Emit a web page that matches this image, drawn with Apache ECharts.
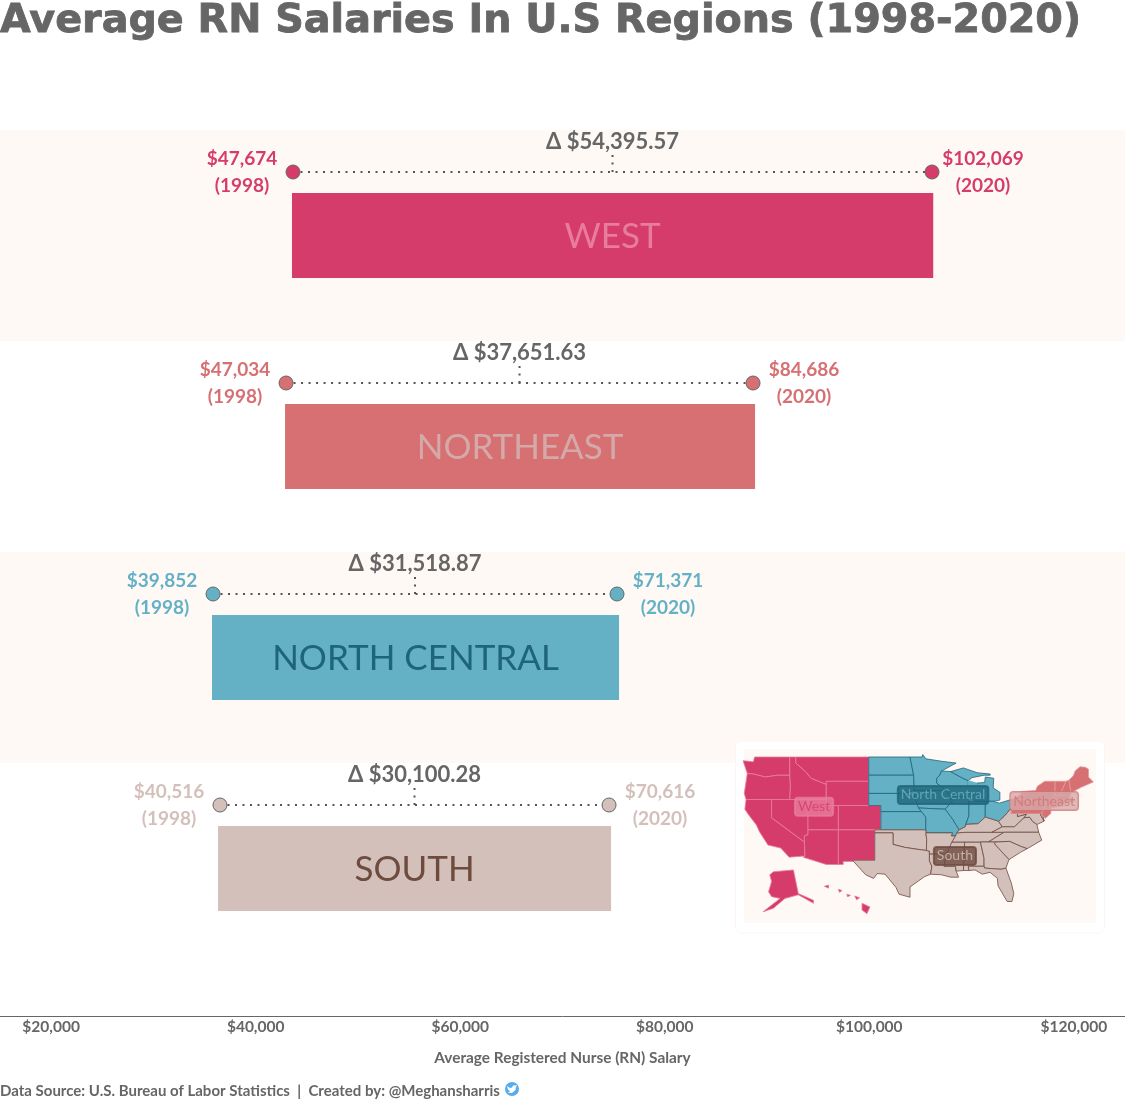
<!DOCTYPE html>
<html><head><meta charset="utf-8">
<style>html,body{margin:0;padding:0;background:#fff}#c{width:1125px;height:1100px}</style>
<script src="https://cdn.jsdelivr.net/npm/echarts@6/dist/echarts.min.js"></script></head>
<body><div id="c"></div>
<script>
// Chart data
const categories = ['WEST','NORTHEAST','NORTH CENTRAL','SOUTH'];
const barStart = [43550,42870,35730,36320];
const barEnd = [106250,88830,75530,74750];
const dotStart = [43650,42970,35830,36510];
const dotEnd = [106130,88630,75330,74550];
const labelStart = ['$47,674','$47,034','$39,852','$40,516'];
const labelEnd = ['$102,069','$84,686','$71,371','$70,616'];
const deltas = ['$54,395.57','$37,651.63','$31,518.87','$30,100.28'];
const colors = ['#d63c6b','#d67073','#64b1c6','#d4c0ba'];
const barText = ['#e87c9e','#d4a9a8','#1f6579','#6e4b3f'];
const ticks = [20000,40000,60000,80000,100000,120000];

// Map shapes: [lon, lat] outlines, Alaska and Hawaii moved as in the inset
const westStates = {
 WA:[[[-124.7,48.4],[-123,48.2],[-122.8,49],[-117,49],[-117,46],[-119,46],[-121,45.7],[-123,46.2],[-124,46.3]]],
 OR:[[[-124,46.3],[-123,46.2],[-121,45.7],[-119,46],[-117,46],[-116.9,44.2],[-117,42],[-124.2,42],[-124.5,43]]],
 CA:[[[-124.2,42],[-120,42],[-120,39],[-114.6,35],[-114.5,32.7],[-117.1,32.5],[-118.5,34],[-120.6,34.5],[-122,36.7],[-122.5,37.8],[-123.8,39.5],[-124.4,40.4]]],
 NV:[[[-120,42],[-114,42],[-114,36.2],[-114.6,36],[-114.6,35],[-120,39]]],
 ID:[[[-117,49],[-116,49],[-116,48],[-114.4,46.6],[-113.5,45.5],[-111,44.5],[-111,42],[-117,42],[-116.9,44.2],[-117,46]]],
 MT:[[[-116,49],[-104,49],[-104,45],[-111,45],[-111,44.5],[-113.5,45.5],[-114.4,46.6],[-116,48]]],
 WY:[[[-111,45],[-104,45],[-104,41],[-111,41]]],
 UT:[[[-114,42],[-111,42],[-111,41],[-109,41],[-109,37],[-114,37]]],
 CO:[[[-109,41],[-102,41],[-102,37],[-109,37]]],
 AZ:[[[-114.6,36],[-114,36.2],[-114,37],[-109,37],[-109,31.3],[-111,31.3],[-114.8,32.5],[-114.5,32.7],[-114.6,35]]],
 NM:[[[-109,37],[-103,37],[-103,32],[-106.6,32],[-106.5,31.8],[-108.2,31.8],[-108.2,31.3],[-109,31.3]]],
 AK:[[[-119.7,30.1],[-116.4,30.4],[-115.6,26.5],[-113.1,25.4],[-113.1,24.9],[-115.6,26.3],[-117.8,25.7],[-119.7,24.1],[-121.4,23.5],[-118.6,25.7],[-120,26],[-120.5,26.8],[-120,28.5],[-120.3,29.6]]],
 HI:[[[-105.1,24.9],[-103.8,24.3],[-104.3,23.2],[-105.1,23.8]]],
 HI2:[[[-106.3,26.1],[-105.5,25.8],[-106,25.5]]],
 HI3:[[[-107.6,26.4],[-107,26.2],[-107.5,26]]],
 HI4:[[[-109,27.2],[-108.4,27],[-108.8,26.7]]],
 AK2:[[[-111.3,27.7],[-110.6,27.9],[-110.6,27.4]]]
};
const centralStates = {
 ND:[[[-104,49],[-97.2,49],[-96.6,46],[-104,46]]],
 SD:[[[-104,46],[-96.6,46],[-96.5,43.5],[-98,43],[-98.5,43],[-104,43]]],
 NE:[[[-104,43],[-98.5,43],[-96.5,42.5],[-95.3,40],[-102,40],[-102,41],[-104,41]]],
 KS:[[[-102,40],[-95.3,40],[-94.6,39.1],[-94.6,37],[-102,37]]],
 MN:[[[-97.2,49],[-95.2,49],[-95.1,49.4],[-94.6,48.7],[-92,48.3],[-89.6,48],[-92,46.7],[-92.3,46],[-92.8,45.5],[-92.8,44.7],[-91.2,43.5],[-96.5,43.5],[-96.6,46]]],
 IA:[[[-96.5,43.5],[-91.2,43.5],[-90.2,41.8],[-91.4,40.4],[-95.8,40.6],[-96.5,42.5]]],
 MO:[[[-95.8,40.6],[-91.4,40.4],[-90.2,38.8],[-89.1,37],[-89.7,36],[-90.4,36],[-90.2,36.5],[-94.6,36.5],[-94.6,39.1],[-95.3,40]]],
 WI:[[[-92,46.7],[-90.5,46.6],[-88.5,45.5],[-87.6,45.1],[-87.8,42.5],[-90.6,42.5],[-91.2,43.5],[-92.8,44.7],[-92.8,45.5],[-92.3,46]]],
 IL:[[[-90.6,42.5],[-87.8,42.5],[-87.5,41.6],[-87.5,39.3],[-88,38],[-88.1,37.5],[-89.1,37],[-90.2,38.8],[-91.4,40.4],[-90.2,41.8]]],
 IN:[[[-87.5,41.7],[-84.8,41.7],[-84.8,39.1],[-86,38],[-88,37.9],[-87.5,39.3]]],
 MI:[[[-86.5,41.76],[-83.5,41.7],[-82.4,41.9],[-82.4,43.2],[-83.5,43.9],[-83.4,45.5],[-84.8,45.7],[-84.9,44.8],[-86.2,44.7],[-86.2,43],[-86.8,42]]],
 MI2:[[[-90.5,46.6],[-88.4,47.2],[-86.1,46.4],[-84,46.2],[-84,46],[-85,46],[-87,45.6],[-87.6,45.1],[-88.5,45.5]]],
 LM:[[[-87.8,42.5],[-86.8,42],[-86.2,43],[-86.2,44.7],[-87.6,45.1]]],
 OH:[[[-84.8,41.7],[-83.5,41.7],[-82.5,41.4],[-80.5,42],[-80.5,40.6],[-81.7,39.2],[-82.6,38.4],[-84.8,39.1]]]
};
const southStates = {
 OK:[[[-103,37],[-94.6,37],[-94.45,35.4],[-94.5,33.6],[-96,33.8],[-98,34.1],[-100,34.6],[-100,36.5],[-103,36.5]]],
 TX:[[[-103,36.5],[-100,36.5],[-100,34.6],[-98,34.1],[-96,33.8],[-94.5,33.6],[-94,33.5],[-94,31.9],[-93.6,31],[-93.8,29.7],[-94.8,29.3],[-97.2,27.6],[-97.2,25.9],[-99,26.4],[-99.5,27.5],[-101.3,29.7],[-102.6,29.8],[-103.2,29],[-104.5,29.6],[-106.5,31.8],[-106.6,32],[-103,32]]],
 AR:[[[-94.6,36.5],[-90.2,36.5],[-90.4,36],[-89.7,36],[-91.2,33],[-94,33],[-94,33.5],[-94.5,33.6],[-94.45,35.4]]],
 LA:[[[-94,33],[-91.2,33],[-91.6,31],[-89.7,31],[-89.6,30.2],[-89.2,29.2],[-90.5,29.2],[-92,29.6],[-93.8,29.7],[-93.6,31],[-94,31.9]]],
 MS:[[[-91.2,33],[-90.3,35],[-88.2,35],[-88.4,30.3],[-89.6,30.2],[-89.7,31],[-91.6,31]]],
 AL:[[[-88.2,35],[-85.6,35],[-85,32.3],[-85,31],[-87.6,31],[-87.5,30.3],[-88.4,30.3]]],
 TN:[[[-90.3,35],[-89.7,36],[-89.5,36.5],[-88,36.6],[-83.7,36.6],[-81.7,36.6],[-84.3,35],[-85.6,35]]],
 KY:[[[-89.5,36.5],[-89.1,37],[-88.1,37.5],[-88,37.9],[-86,38],[-84.8,39.1],[-82.6,38.4],[-82,37.5],[-83.7,36.6],[-88,36.6]]],
 WV:[[[-82.6,38.4],[-81.7,39.2],[-80.5,40.6],[-80.5,39.7],[-79.5,39.7],[-79.5,39.2],[-78,39.6],[-78.4,39],[-80,37.5],[-82,37.5]]],
 VA:[[[-83.7,36.6],[-82,37.5],[-80,37.5],[-78.4,39],[-77.5,39.1],[-77,38.4],[-76.3,37.9],[-76,36.6]]],
 NC:[[[-84.3,35],[-81.7,36.6],[-76,36.6],[-75.5,35.3],[-77.9,33.9],[-79,34.3],[-80.8,35.1],[-83.1,35]]],
 SC:[[[-83.1,35],[-80.8,35.1],[-79,34.3],[-77.9,33.9],[-79,33.3],[-80.9,32.1],[-83.3,34.7]]],
 GA:[[[-85.6,35],[-83.1,35],[-83.3,34.7],[-80.9,32.1],[-81.4,30.7],[-82.2,30.5],[-84.9,30.7],[-85,31],[-85,32.3]]],
 FL:[[[-87.6,31],[-85,31],[-84.9,30.7],[-82.2,30.5],[-81.4,30.7],[-80.5,28.2],[-80.1,26.5],[-80.4,25.2],[-81.2,25.2],[-82.7,27.8],[-82.8,29],[-84,30],[-85.3,29.7],[-86.5,30.4],[-87.5,30.3]]],
 MD:[[[-79.5,39.7],[-75.8,39.7],[-75.1,38.45],[-76,38],[-76.3,37.9],[-77,38.4],[-77.5,39.1],[-78.4,39],[-78,39.6],[-79.5,39.2]]],
 DE:[[[-75.8,39.7],[-75.4,39.8],[-75.1,38.45]]]
};
const northeastStates = {
 PA:[[[-80.5,42],[-79.8,42.25],[-79.8,42],[-75.3,42],[-74.7,41.4],[-75.4,39.8],[-75.8,39.7],[-80.5,39.7]]],
 NY:[[[-79.8,42],[-79.8,42.25],[-78.9,42.9],[-79,43.3],[-76.5,43.5],[-76.2,44.2],[-75,45],[-73.3,45],[-73.3,43.6],[-73.5,41.3],[-73.7,41],[-72,41],[-74,40.6],[-74,41],[-74.7,41.4],[-75.3,42]]],
 NJ:[[[-74.7,41.4],[-74,41],[-74,39.7],[-74.9,38.9],[-75.5,39.5],[-75.4,39.8]]],
 CT:[[[-73.5,42],[-71.8,42],[-71.8,41.3],[-73.7,41]]],
 RI:[[[-71.8,42],[-71.4,42],[-71.2,41.5],[-71.8,41.3]]],
 MA:[[[-73.5,42.7],[-71.3,42.7],[-70.8,42.8],[-71,42.2],[-70,41.8],[-70.6,41.6],[-71.2,41.5],[-71.4,42],[-73.5,42]]],
 VT:[[[-73.3,45],[-71.5,45],[-72.4,43],[-72.5,42.7],[-73.3,42.7],[-73.3,43.6]]],
 NH:[[[-71.5,45],[-71,45.2],[-70.7,43.1],[-70.8,42.8],[-71.3,42.7],[-72.5,42.7],[-72.4,43]]],
 ME:[[[-71,45.2],[-70.3,45.9],[-70,46.7],[-69.2,47.4],[-68.3,47.3],[-67.8,47],[-67.8,45.7],[-67,44.9],[-69,44],[-70.7,43.1]]]
};
const mapRegions = [
 {states:westStates, fill:'#d63c6b', border:'#e87c9e'},
 {states:centralStates, fill:'#64b1c6', border:'#1f6579'},
 {states:southStates, fill:'#d4c0ba', border:'#6e4b3f'},
 {states:northeastStates, fill:'#d67073', border:'#e29a9b'}
];
const mapLabels = [
 {name:'West', value:[-113,40.8], text:'#d63c6b', bg:'#e87c9e', bd:'#e87c9e'},
 {name:'North Central', value:[-91.75,42.75], text:'#64b1c6', bg:'#1f6579', bd:'#1f6579'},
 {name:'Northeast', value:[-75.1,41.75], text:'#d67073', bg:'#d4a9a8', bd:'#d67073'},
 {name:'South', value:[-89.8,32.7], text:'#d4c0ba', bg:'#6e4b3f', bd:'#6e4b3f'}
];

const features=[], geoRegions=[];
mapRegions.forEach(r=>{
  Object.keys(r.states).forEach(k=>{
    features.push({type:'Feature',properties:{name:k},geometry:{type:'Polygon',coordinates:r.states[k]}});
    const s={areaColor:r.fill,borderColor:k==='LM'?r.fill:r.border,borderWidth:0.8};
    geoRegions.push({name:k,itemStyle:s,label:{show:false},silent:true});
  });
});
echarts.registerMap('usRegions',{type:'FeatureCollection',features});

const GREY='#666666', BODY='Lato, "Noto Sans", sans-serif', BAND='#fff9f6';
const chart=echarts.init(document.getElementById('c'),null,{renderer:'canvas'});
const DOT_OFFSET=-63.5;

chart.setOption({
  animation:false,
  backgroundColor:'#ffffff',
  title:[
    {text:'Average RN Salaries In U.S Regions (1998-2020)',left:0,top:2,padding:0,
     textStyle:{fontFamily:'"DejaVu Sans"',fontWeight:'bold',fontSize:39.7,color:GREY,
       textBorderColor:GREY,textBorderWidth:0.8}},
    {text:'Data Source: U.S. Bureau of Labor Statistics  |  Created by: @Meghansharris',left:0,top:1084,padding:0,
     textStyle:{fontFamily:BODY,fontWeight:'bold',fontSize:15,color:GREY}}
  ],
  grid:{left:0,right:0,top:130,height:844,containLabel:false,outerBoundsMode:'none'},
  xAxis:{type:'value',min:15000,max:125000,interval:5000,offset:42,
    splitLine:{show:false},axisTick:{show:false},
    axisLine:{show:true,onZero:false,lineStyle:{color:GREY,width:1}},
    axisLabel:{margin:3,color:GREY,fontFamily:BODY,fontWeight:'bold',fontSize:15.5,
      formatter:v=>ticks.includes(v)?'$'+v.toLocaleString('en-US'):''},
    name:'Average Registered Nurse (RN) Salary',nameLocation:'middle',nameGap:35,
    nameTextStyle:{color:GREY,fontFamily:BODY,fontWeight:'bold',fontSize:15.4}},
  yAxis:{type:'category',data:categories,inverse:true,
    axisLine:{show:false},axisTick:{show:false},axisLabel:{show:false},
    splitLine:{show:false},
    splitArea:{show:true,areaStyle:{color:[BAND,'#ffffff']}}},
  geo:{map:'usRegions',roam:false,silent:true,z:6,aspectScale:1,
    boundingCoords:[[-124.8,49.4],[-66.9,23.2]],
    layoutCenter:[918.2,834.1],layoutSize:351.5,
    itemStyle:{areaColor:'#ddd',borderColor:'#fff',borderWidth:1},
    label:{show:false},emphasis:{disabled:true},select:{disabled:true},
    regions:geoRegions},
  series:[
    {type:'bar',stack:'r',silent:true,barWidth:85,itemStyle:{color:'transparent'},data:barStart},
    {type:'bar',stack:'r',silent:true,barWidth:85,
     data:barEnd.map((e,i)=>({value:e-barStart[i],itemStyle:{color:colors[i]},
       label:{show:true,position:'inside',offset:[0,1],formatter:categories[i],color:barText[i],
         fontFamily:BODY,fontSize:35,fontWeight:'normal'}}))},
    {type:'custom',silent:true,clip:false,z:4,
     data:dotStart.map((s,i)=>[s,dotEnd[i],i]),
     renderItem:(p,api)=>{
       const i=api.value(2);
       const a=api.coord([api.value(0),i]), b=api.coord([api.value(1),i]);
       const y=a[1]+DOT_OFFSET, mid=(a[0]+b[0])/2, c=colors[i];
       const txt=(t,x,yy,col,font)=>({type:'text',style:{text:t,x,y:yy,fill:col,font,align:'center',verticalAlign:'middle'}});
       const dash={stroke:'#555',lineWidth:2,lineDash:[2,5.5]};
       const f18='bold 19px '+BODY;
       return {type:'group',children:[
         {type:'line',shape:{x1:a[0],y1:y,x2:b[0],y2:y},style:dash},
         {type:'line',shape:{x1:mid,y1:y,x2:mid,y2:y-17},style:dash},
         {type:'circle',shape:{cx:a[0],cy:y,r:7},style:{fill:c,stroke:GREY,lineWidth:1}},
         {type:'circle',shape:{cx:b[0],cy:y,r:7},style:{fill:c,stroke:GREY,lineWidth:1}},
         txt(labelStart[i],a[0]-51,y-13,c,f18),txt('(1998)',a[0]-51,y+14,c,f18),
         txt(labelEnd[i],b[0]+51,y-13,c,f18),txt('(2020)',b[0]+51,y+14,c,f18),
         txt('Δ '+deltas[i],mid,y-30,GREY,'bold 22px '+BODY)
       ]};
     }},
    {type:'scatter',coordinateSystem:'geo',z:8,symbolSize:0,silent:true,
     data:mapLabels.map(m=>({name:m.name,value:m.value,
       label:{show:true,position:'inside',formatter:m.name,color:m.text,fontFamily:BODY,fontSize:14,
         backgroundColor:m.bg,borderColor:m.bd,borderWidth:1,borderRadius:3,padding:[2,3]}}))}
  ],
  graphic:[
    {type:'rect',z:3,silent:true,shape:{x:735.5,y:741,width:369,height:192,r:6},style:{fill:'#fff',stroke:'#fff5f0',lineWidth:1}},
    {type:'rect',z:4,silent:true,shape:{x:744,y:749,width:352,height:174},style:{fill:BAND}},
    {type:'circle',z:4,silent:true,shape:{cx:512,cy:1089,r:7},style:{fill:'#55acee'}},
    {type:'polygon',z:5,silent:true,
     shape:{points:[[507,1086],[510,1088],[512,1087.5],[513,1085.5],[515,1085.5],[517,1085],[516,1087],[515.5,1090],[512,1093],[507.5,1092.5],[510,1091.5],[508,1089.5]]},
     style:{fill:'#fff'}}
  ]
});
</script></body></html>
